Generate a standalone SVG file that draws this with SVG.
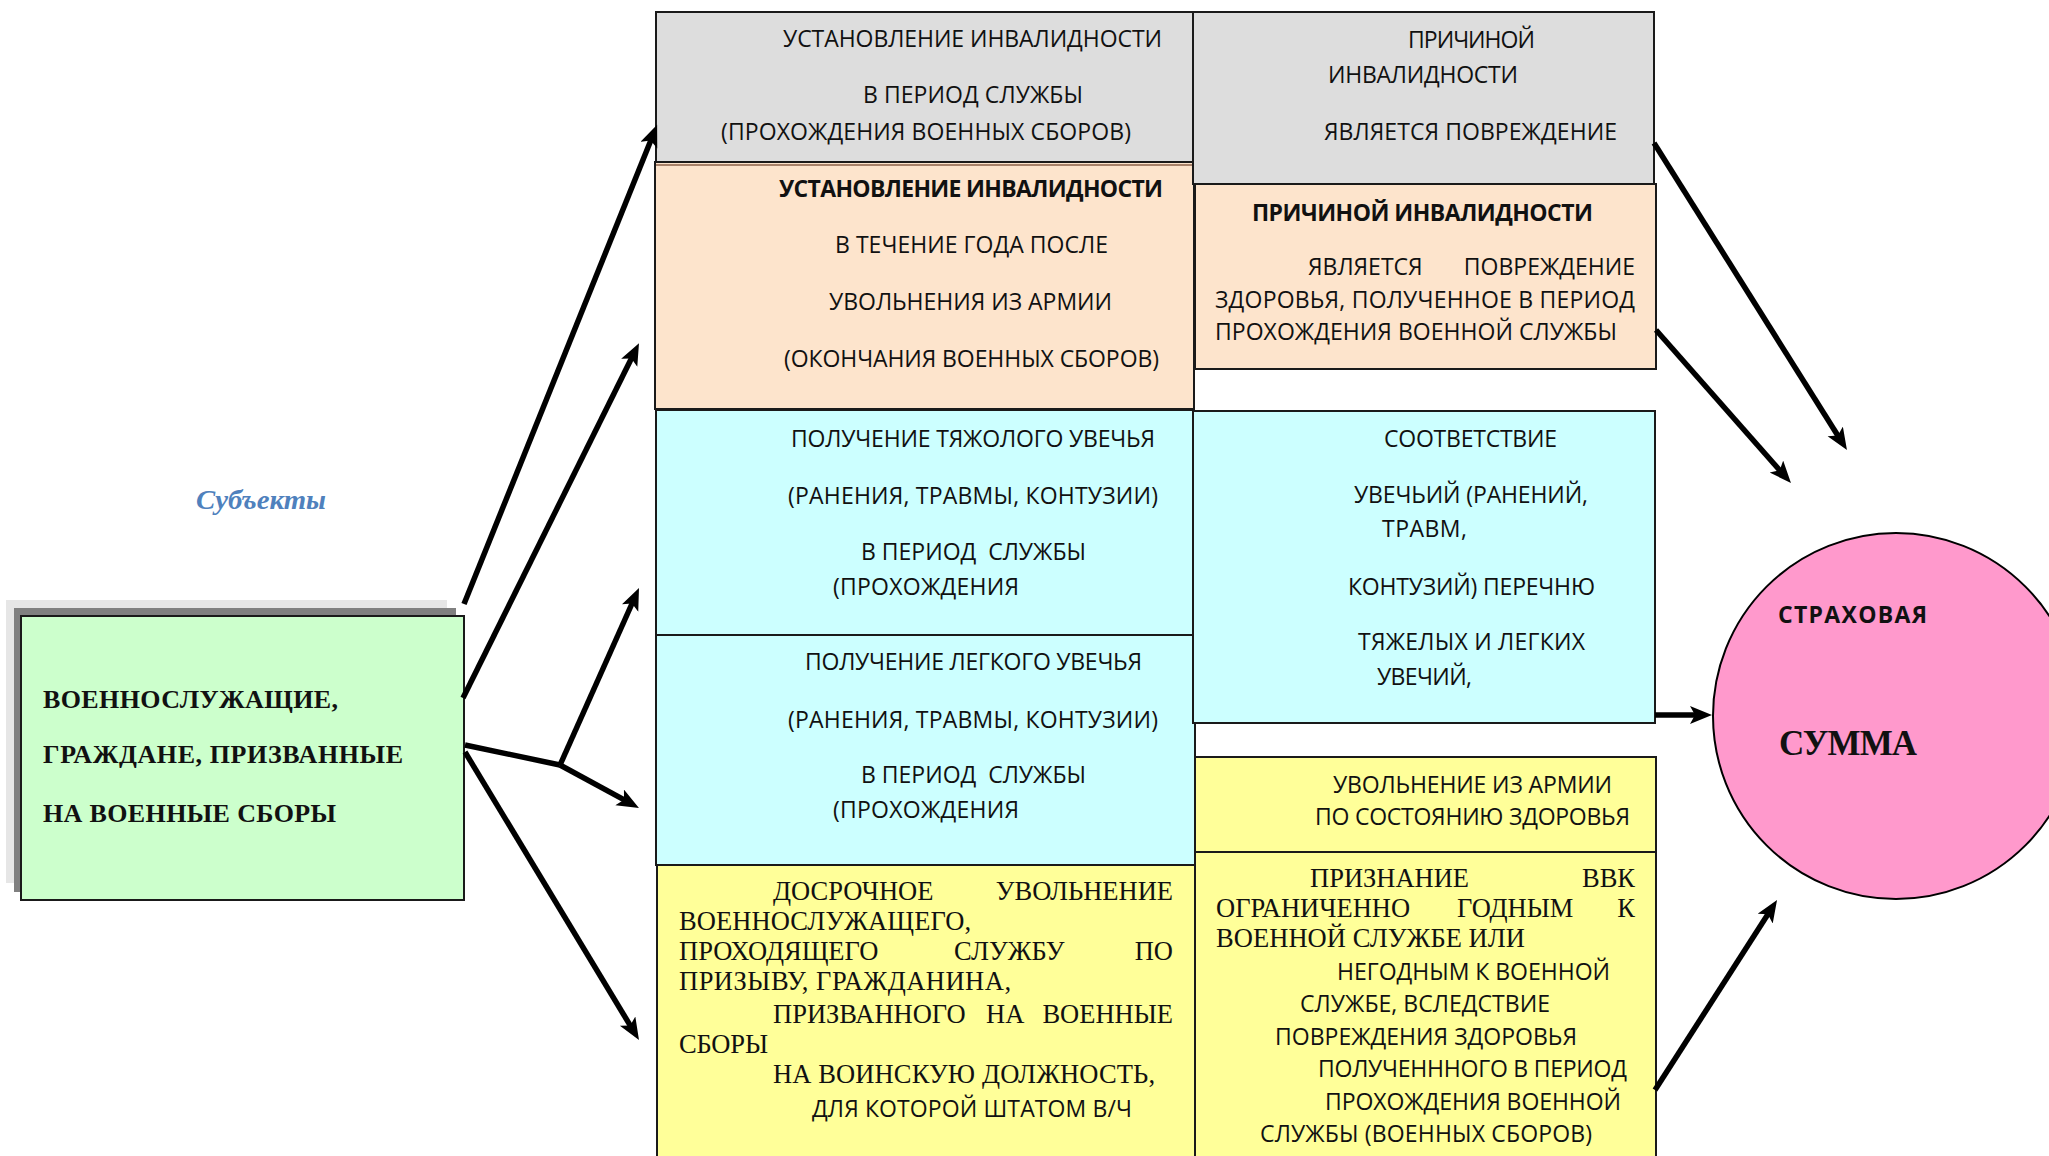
<svg xmlns="http://www.w3.org/2000/svg" width="2049" height="1156" viewBox="0 0 2049 1156">
<style>
.box{stroke:#1a1a1a;stroke-width:2}
.gray{fill:#DDDDDD}
.peach{fill:#FDE4CC}
.cyan{fill:#CCFFFF}
.yellow{fill:#FFFF99}
.green{fill:#CCFFCC}
.s{font-family:"Open Sans","Noto Sans","Liberation Sans",sans-serif;font-size:23px;fill:#111}
.sb{font-family:"Open Sans","Noto Sans","Liberation Sans",sans-serif;font-size:23px;font-weight:bold;fill:#111}
.t{font-family:"Liberation Serif","Times New Roman",serif;font-size:26.5px;fill:#111}
.tb{font-family:"Liberation Serif","Times New Roman",serif;font-size:26px;font-weight:bold;fill:#111}
.conn{fill:none;stroke:#000;stroke-width:5.5;marker-end:url(#ah)}
</style>
<defs>
<marker id="ah" markerUnits="userSpaceOnUse" markerWidth="24" markerHeight="20" refX="11" refY="9" orient="auto">
<path d="M0,0 L22,9 L0,18 L5,9 z" fill="#000"/>
</marker>
</defs>
<rect width="2049" height="1156" fill="#fff"/>

<g id="subjects-label">
<text x="196" y="509" font-family="'Liberation Serif','Times New Roman',serif" font-size="27" font-weight="bold" font-style="italic" fill="#4F81BD" textLength="130" lengthAdjust="spacingAndGlyphs">Субъекты</text>
</g>

<g id="subjects">
<rect x="6" y="600" width="441" height="283" fill="#E6E6E6"/>
<rect x="14" y="608" width="442" height="284" fill="#808080"/>
<rect x="21" y="616" width="443" height="284" class="box green"/>
<text class="tb" x="43" y="708" textLength="295" lengthAdjust="spacing">ВОЕННОСЛУЖАЩИЕ,</text>
<text class="tb" x="43" y="763" textLength="360" lengthAdjust="spacing">ГРАЖДАНЕ, ПРИЗВАННЫЕ</text>
<text class="tb" x="43" y="822" textLength="293" lengthAdjust="spacing">НА ВОЕННЫЕ СБОРЫ</text>
</g>

<g id="disability-service">
<rect x="656" y="12" width="538" height="150" class="box gray"/>
<text class="s" x="783" y="47" textLength="379" lengthAdjust="spacing">УСТАНОВЛЕНИЕ ИНВАЛИДНОСТИ</text>
<text class="s" x="863" y="103" textLength="220" lengthAdjust="spacing">В ПЕРИОД СЛУЖБЫ</text>
<text class="s" x="721" y="140" textLength="410" lengthAdjust="spacing">(ПРОХОЖДЕНИЯ ВОЕННЫХ СБОРОВ)</text>
</g>

<g id="disability-after">
<rect x="655" y="162" width="539" height="247" class="box peach"/>
<line x1="656" y1="165" x2="1193" y2="165" stroke="#A8826A" stroke-width="2"/>
<text class="sb" x="779" y="197" textLength="384" lengthAdjust="spacing">УСТАНОВЛЕНИЕ ИНВАЛИДНОСТИ</text>
<text class="s" x="835" y="253" textLength="273" lengthAdjust="spacing">В ТЕЧЕНИЕ ГОДА ПОСЛЕ</text>
<text class="s" x="829" y="310" textLength="283" lengthAdjust="spacing">УВОЛЬНЕНИЯ ИЗ АРМИИ</text>
<text class="s" x="784" y="367" textLength="375" lengthAdjust="spacing">(ОКОНЧАНИЯ ВОЕННЫХ СБОРОВ)</text>
</g>

<g id="severe-injury">
<rect x="656" y="410" width="538" height="225" class="box cyan"/>
<text class="s" x="791" y="447" textLength="364" lengthAdjust="spacing">ПОЛУЧЕНИЕ ТЯЖОЛОГО УВЕЧЬЯ</text>
<text class="s" x="788" y="504" textLength="370" lengthAdjust="spacing">(РАНЕНИЯ, ТРАВМЫ, КОНТУЗИИ)</text>
<text class="s" x="861" y="560" textLength="225" lengthAdjust="spacing" xml:space="preserve">В ПЕРИОД  СЛУЖБЫ</text>
<text class="s" x="833" y="595" textLength="186" lengthAdjust="spacing">(ПРОХОЖДЕНИЯ</text>
</g>

<g id="light-injury">
<rect x="656" y="635" width="539" height="230" class="box cyan"/>
<text class="s" x="805" y="670" textLength="337" lengthAdjust="spacing">ПОЛУЧЕНИЕ ЛЕГКОГО УВЕЧЬЯ</text>
<text class="s" x="788" y="728" textLength="370" lengthAdjust="spacing">(РАНЕНИЯ, ТРАВМЫ, КОНТУЗИИ)</text>
<text class="s" x="861" y="783" textLength="225" lengthAdjust="spacing" xml:space="preserve">В ПЕРИОД  СЛУЖБЫ</text>
<text class="s" x="833" y="818" textLength="186" lengthAdjust="spacing">(ПРОХОЖДЕНИЯ</text>
</g>

<g id="early-discharge">
<rect x="657" y="865" width="538" height="300" class="box yellow"/>
<text class="t" x="773" y="900">ДОСРОЧНОЕ</text>
<text class="t" x="1173" y="900" text-anchor="end">УВОЛЬНЕНИЕ</text>
<text class="t" x="679" y="930" textLength="292" lengthAdjust="spacing">ВОЕННОСЛУЖАЩЕГО,</text>
<text class="t" x="679" y="960">ПРОХОДЯЩЕГО</text>
<text class="t" x="954" y="960">СЛУЖБУ</text>
<text class="t" x="1173" y="960" text-anchor="end">ПО</text>
<text class="t" x="679" y="990" textLength="332" lengthAdjust="spacing">ПРИЗЫВУ, ГРАЖДАНИНА,</text>
<text class="t" x="773" y="1023">ПРИЗВАННОГО</text>
<text class="t" x="986" y="1023">НА</text>
<text class="t" x="1173" y="1023" text-anchor="end">ВОЕННЫЕ</text>
<text class="t" x="679" y="1053" textLength="89" lengthAdjust="spacing">СБОРЫ</text>
<text class="t" x="773" y="1083" textLength="382" lengthAdjust="spacing">НА ВОИНСКУЮ ДОЛЖНОСТЬ,</text>
<text class="s" x="812" y="1117" textLength="320" lengthAdjust="spacing">ДЛЯ КОТОРОЙ ШТАТОМ В/Ч</text>
</g>

<g id="cause-damage">
<rect x="1193" y="12" width="461" height="172" class="box gray"/>
<text class="s" x="1408" y="48" textLength="127" lengthAdjust="spacing">ПРИЧИНОЙ</text>
<text class="s" x="1328" y="83" textLength="190" lengthAdjust="spacing">ИНВАЛИДНОСТИ</text>
<text class="s" x="1324" y="140" textLength="293" lengthAdjust="spacing">ЯВЛЯЕТСЯ ПОВРЕЖДЕНИЕ</text>
</g>

<g id="cause-health">
<rect x="1195" y="184" width="461" height="185" class="box peach"/>
<text class="sb" x="1252" y="221" textLength="341" lengthAdjust="spacing">ПРИЧИНОЙ ИНВАЛИДНОСТИ</text>
<text class="s" x="1308" y="275">ЯВЛЯЕТСЯ</text>
<text class="s" x="1635" y="275" text-anchor="end">ПОВРЕЖДЕНИЕ</text>
<text class="s" x="1215" y="308" textLength="420" lengthAdjust="spacing">ЗДОРОВЬЯ, ПОЛУЧЕННОЕ В ПЕРИОД</text>
<text class="s" x="1215" y="340" textLength="402" lengthAdjust="spacing">ПРОХОЖДЕНИЯ ВОЕННОЙ СЛУЖБЫ</text>
</g>

<g id="injury-list">
<rect x="1193" y="411" width="462" height="312" class="box cyan"/>
<text class="s" x="1384" y="447" textLength="173" lengthAdjust="spacing">СООТВЕТСТВИЕ</text>
<text class="s" x="1354" y="503" textLength="234" lengthAdjust="spacing">УВЕЧЬИЙ (РАНЕНИЙ,</text>
<text class="s" x="1382" y="537" textLength="85" lengthAdjust="spacing">ТРАВМ,</text>
<text class="s" x="1348" y="595" textLength="247" lengthAdjust="spacing">КОНТУЗИЙ) ПЕРЕЧНЮ</text>
<text class="s" x="1358" y="650" textLength="227" lengthAdjust="spacing">ТЯЖЕЛЫХ И ЛЕГКИХ</text>
<text class="s" x="1377" y="685" textLength="95" lengthAdjust="spacing">УВЕЧИЙ,</text>
</g>

<g id="discharge-health">
<rect x="1195" y="757" width="461" height="95" class="box yellow"/>
<text class="s" x="1333" y="793" textLength="279" lengthAdjust="spacing">УВОЛЬНЕНИЕ ИЗ АРМИИ</text>
<text class="s" x="1315" y="825" textLength="315" lengthAdjust="spacing">ПО СОСТОЯНИЮ ЗДОРОВЬЯ</text>
</g>

<g id="vvk-recognition">
<rect x="1195" y="852" width="461" height="320" class="box yellow"/>
<text class="t" x="1310" y="887">ПРИЗНАНИЕ</text>
<text class="t" x="1635" y="887" text-anchor="end">ВВК</text>
<text class="t" x="1216" y="917">ОГРАНИЧЕННО</text>
<text class="t" x="1457" y="917">ГОДНЫМ</text>
<text class="t" x="1635" y="917" text-anchor="end">К</text>
<text class="t" x="1216" y="947" textLength="309" lengthAdjust="spacing">ВОЕННОЙ СЛУЖБЕ ИЛИ</text>
<text class="s" x="1337" y="980" textLength="273" lengthAdjust="spacing">НЕГОДНЫМ К ВОЕННОЙ</text>
<text class="s" x="1300" y="1012" textLength="250" lengthAdjust="spacing">СЛУЖБЕ, ВСЛЕДСТВИЕ</text>
<text class="s" x="1275" y="1045" textLength="302" lengthAdjust="spacing">ПОВРЕЖДЕНИЯ ЗДОРОВЬЯ</text>
<text class="s" x="1318" y="1077" textLength="309" lengthAdjust="spacing">ПОЛУЧЕНННОГО В ПЕРИОД</text>
<text class="s" x="1325" y="1110" textLength="296" lengthAdjust="spacing">ПРОХОЖДЕНИЯ ВОЕННОЙ</text>
<text class="s" x="1260" y="1142" textLength="332" lengthAdjust="spacing">СЛУЖБЫ (ВОЕННЫХ СБОРОВ)</text>
</g>

<g id="insurance-sum">
<circle cx="1896" cy="716" r="183" fill="#FF99CC" stroke="#000" stroke-width="2"/>
<text class="sb" x="1778" y="623" font-size="24" textLength="149" lengthAdjust="spacing">СТРАХОВАЯ</text>
<text x="1779" y="755" font-family="'Liberation Serif','Times New Roman',serif" font-size="35" font-weight="bold" fill="#111" textLength="138" lengthAdjust="spacing">СУММА</text>
</g>

<g id="connectors">
<line class="conn" x1="464" y1="604" x2="653" y2="135"/>
<line class="conn" x1="463" y1="698" x2="634.1" y2="353"/>
<polyline fill="none" stroke="#000" stroke-width="5.5" stroke-linejoin="round" points="465,745 560,765"/>
<line class="conn" x1="560" y1="765" x2="634.5" y2="598"/>
<line class="conn" x1="560" y1="765" x2="629.3" y2="802.7"/>
<line class="conn" x1="465" y1="752" x2="633.3" y2="1030.6"/>
<line class="conn" x1="1654" y1="143" x2="1841.1" y2="440.7"/>
<line class="conn" x1="1656" y1="330" x2="1783.7" y2="474.8"/>
<line class="conn" x1="1655" y1="715" x2="1701" y2="715"/>
<line class="conn" x1="1655" y1="1090" x2="1771.1" y2="909.3"/>
</g>
</svg>
